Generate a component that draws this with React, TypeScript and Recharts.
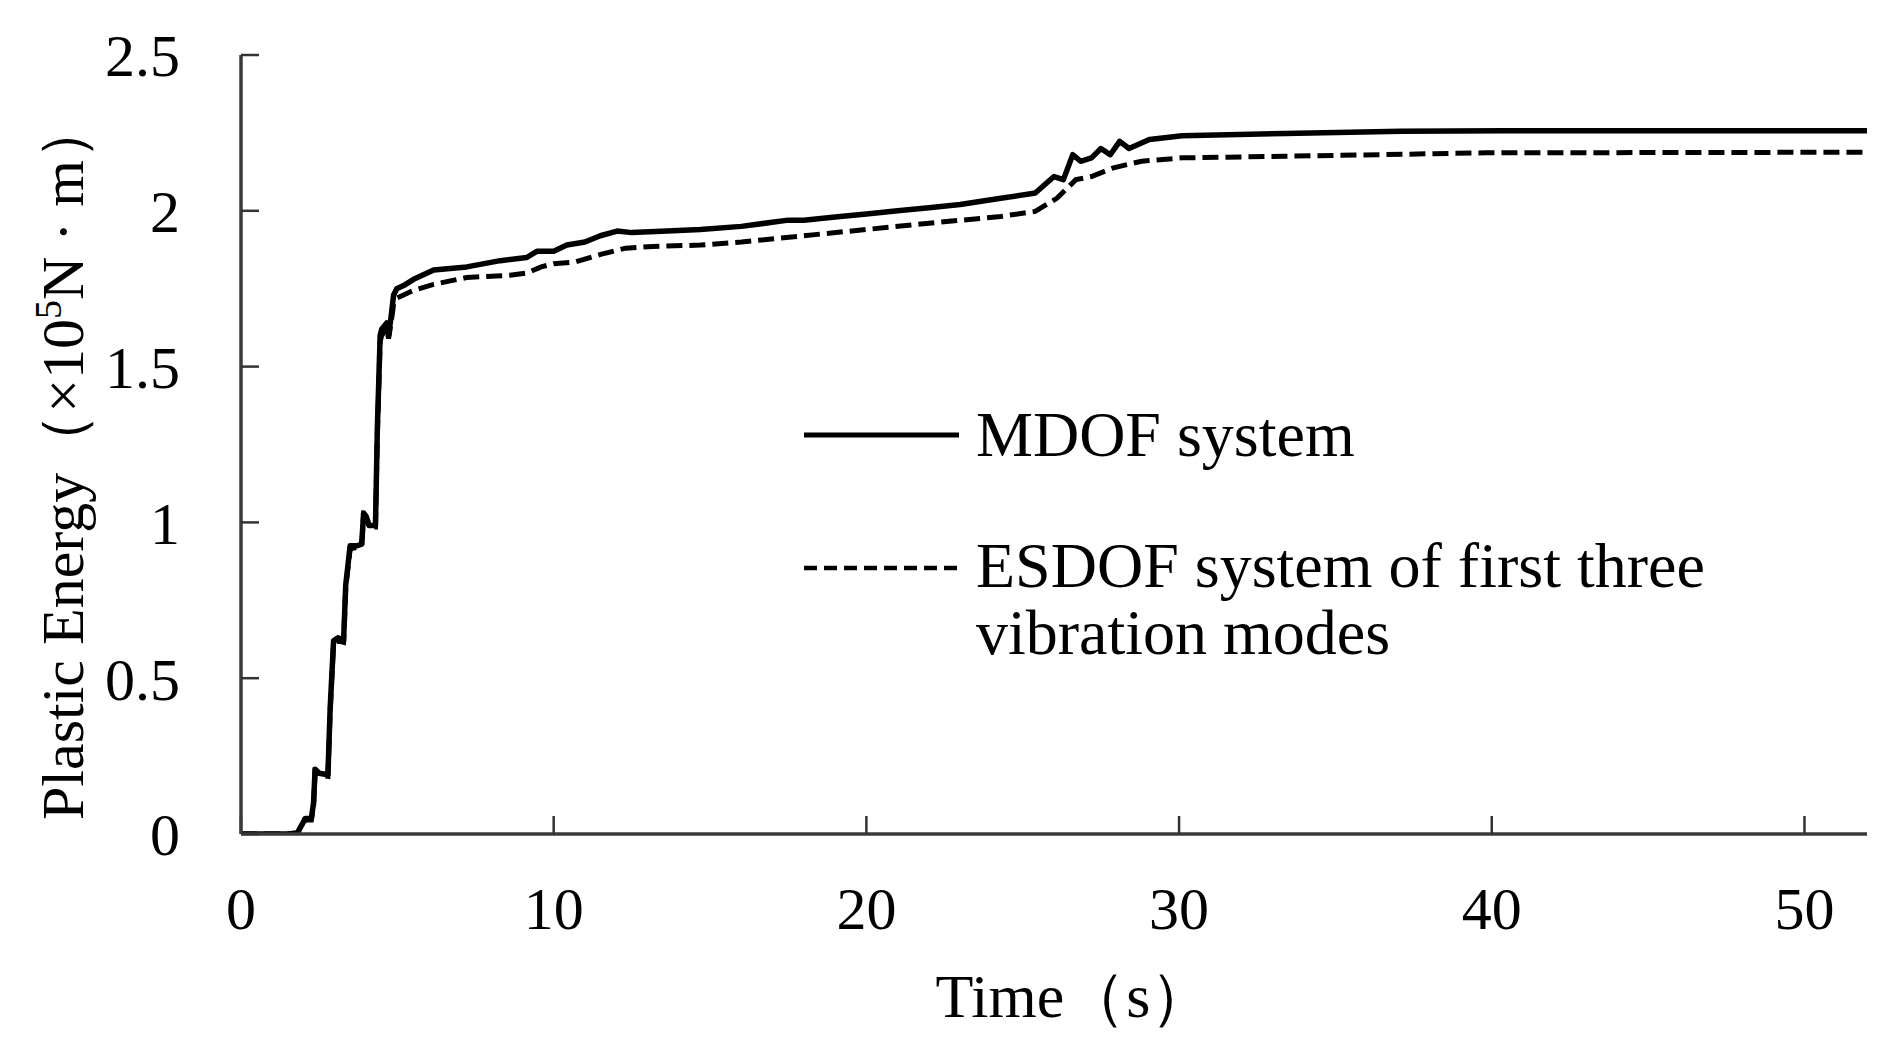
import React from 'react';
import { LineChart, Line, XAxis, YAxis, Legend } from 'recharts';

const mdofTime = [0, 1.5, 1.8, 1.95, 2.05, 2.25, 2.32, 2.37, 2.5, 2.78, 2.85, 2.96, 3.1, 3.28, 3.35, 3.49, 3.7, 3.86, 3.92, 4.0, 4.1, 4.3, 4.36, 4.45, 4.5, 4.66, 4.72, 4.8, 4.88, 4.98, 5.2, 5.52, 6.16, 7.22, 8.29, 9.14, 9.46, 10.0, 10.42, 11.0, 11.49, 12.03, 12.5, 13.63, 14.69, 16, 17.5, 18, 19, 20, 21, 22, 23, 24.3, 25.4, 26.0, 26.3, 26.6, 26.85, 27.2, 27.5, 27.8, 28.1, 28.4, 29.05, 30.1, 33.4, 37.1, 40.4, 52];
const mdofEnergy = [0, 0, 0.003, 0.03, 0.05, 0.05, 0.1, 0.208, 0.195, 0.19, 0.4, 0.62, 0.63, 0.62, 0.8, 0.925, 0.925, 0.93, 1.03, 1.02, 0.99, 0.99, 1.3, 1.6, 1.62, 1.64, 1.6, 1.66, 1.73, 1.75, 1.76, 1.78, 1.81, 1.82, 1.84, 1.85, 1.87, 1.87, 1.89, 1.9, 1.92, 1.935, 1.93, 1.935, 1.94, 1.95, 1.97, 1.97, 1.98, 1.99, 2.0, 2.01, 2.02, 2.04, 2.057, 2.11, 2.1, 2.18, 2.159, 2.17, 2.2, 2.18, 2.223, 2.2, 2.229, 2.241, 2.248, 2.255, 2.257, 2.257];

const esdofTime = [0, 1.5, 1.8, 1.95, 2.05, 2.25, 2.32, 2.37, 2.5, 2.78, 2.85, 2.96, 3.1, 3.28, 3.35, 3.49, 3.7, 3.86, 3.92, 4.0, 4.1, 4.3, 4.36, 4.45, 4.5, 4.66, 4.72, 4.8, 4.88, 4.98, 5.2, 5.52, 6.16, 7.22, 8.6, 9.14, 9.6, 10.0, 10.7, 11.5, 12.3, 13.0, 14.7, 16, 18, 20, 22, 24.3, 25.4, 26.1, 26.7, 27.2, 27.9, 28.8, 30.1, 33.4, 39.8, 52];
const esdofEnergy = [0, 0, 0.003, 0.028, 0.045, 0.045, 0.09, 0.2, 0.19, 0.185, 0.39, 0.61, 0.62, 0.615, 0.79, 0.915, 0.92, 0.925, 1.02, 1.01, 0.985, 0.985, 1.28, 1.58, 1.6, 1.62, 1.59, 1.64, 1.7, 1.72, 1.73, 1.745, 1.764, 1.786, 1.793, 1.8, 1.82, 1.83, 1.836, 1.86, 1.88, 1.885, 1.89, 1.9, 1.92, 1.94, 1.96, 1.982, 1.998, 2.041, 2.1, 2.11, 2.138, 2.159, 2.17, 2.175, 2.186, 2.188];

const xTicks = [0, 10, 20, 30, 40, 50];
const yTicks = [0, 0.5, 1, 1.5, 2, 2.5];
const yTickLabels = ['0', '0.5', '1', '1.5', '2', '2.5'];
const mdofName = 'MDOF system';
const esdofNameLines = ['ESDOF system of first three', 'vibration modes'];
const esdofName = esdofNameLines.join(' ');
const xTitle = 'Time（s）';
const yTitleParts = ['Plastic Energy（×10', '5', 'N · m）'];

const mdofData = mdofTime.map((t, i) => ({ t, e: mdofEnergy[i] }));
const esdofData = esdofTime.map((t, i) => ({ t, e: esdofEnergy[i] }));

const FONT = "'Liberation Serif', 'Times New Roman', serif";

const LegendContent = (props: any) => {
  const payload = props.payload || [];
  return (
    <svg width={900} height={300} style={{ overflow: 'visible' }}>
      {payload.map((entry: any, i: number) => {
        const isMdof = entry.value === mdofName;
        const lines = isMdof ? [mdofName] : esdofNameLines;
        const lineY = isMdof ? 35 : 168;
        const textY = isMdof ? 56 : 187;
        return (
          <g key={i}>
            <line x1={0} x2={155} y1={lineY} y2={lineY} stroke="#000" strokeWidth={isMdof ? 5 : 4.5} strokeDasharray={isMdof ? undefined : '13 7'} />
            {lines.map((ln, j) => (
              <text key={j} x={172} y={textY + j * 67} fontFamily={FONT} fontSize={64} fill="#000">{ln}</text>
            ))}
          </g>
        );
      })}
    </svg>
  );
};

export default function App() {
  return (
    <div style={{ position: 'absolute', left: 0, top: 0, width: 1894, height: 1040, background: '#fff' }}>
      <LineChart width={1894} height={1040} margin={{ top: 55, right: 27, bottom: 0, left: 0 }}>
        <XAxis
          type="number"
          dataKey="t"
          domain={[0, 52]}
          ticks={xTicks}
          interval={0}
          height={206}
          axisLine={{ stroke: '#3a3a3a', strokeWidth: 3.5 }}
          tickLine={{ stroke: '#333', strokeWidth: 2.5 }}
          tickSize={-18}
          tickMargin={70}
          tick={{ fill: '#000', fontSize: 60, fontFamily: FONT }}
          allowDataOverflow
          label={{
            content: () => (
              <text x={1074} y={1017} textAnchor="middle" fontFamily={FONT} fontSize={62} fill="#000">{xTitle}</text>
            ),
          }}
        />
        <YAxis
          type="number"
          domain={[0, 2.5]}
          ticks={yTicks}
          interval={0}
          width={241}
          axisLine={{ stroke: '#3a3a3a', strokeWidth: 3.5 }}
          tickLine={{ stroke: '#333', strokeWidth: 2.5 }}
          tickSize={-18}
          tickMargin={79}
          tickFormatter={(v: number) => yTickLabels[yTicks.indexOf(v)] ?? String(v)}
          tick={{ fill: '#000', fontSize: 60, fontFamily: FONT }}
          allowDataOverflow
          label={{
            content: () => (
              <text x={83} y={460} transform="rotate(-90, 83, 460)" textAnchor="middle" fontFamily={FONT} fontSize={60} fill="#000">
                {yTitleParts[0]}
                <tspan dy={-22} fontSize={38}>{yTitleParts[1]}</tspan>
                <tspan dy={22}>{yTitleParts[2]}</tspan>
              </text>
            ),
          }}
        />
        <Legend
          layout="vertical"
          align="center"
          verticalAlign="middle"
          content={LegendContent}
          wrapperStyle={{ position: 'absolute', left: 804, top: 400, width: 900, height: 300 }}
        />
        <Line
          data={mdofData}
          dataKey="e"
          name={mdofName}
          type="linear"
          stroke="#000"
          strokeWidth={5.5}
          strokeLinejoin="round"
          dot={false}
          activeDot={false}
          isAnimationActive={false}
        />
        <Line
          data={esdofData}
          dataKey="e"
          name={esdofName}
          type="linear"
          stroke="#000"
          strokeWidth={5}
          strokeDasharray="16 7"
          dot={false}
          activeDot={false}
          isAnimationActive={false}
        />
      </LineChart>
    </div>
  );
}
